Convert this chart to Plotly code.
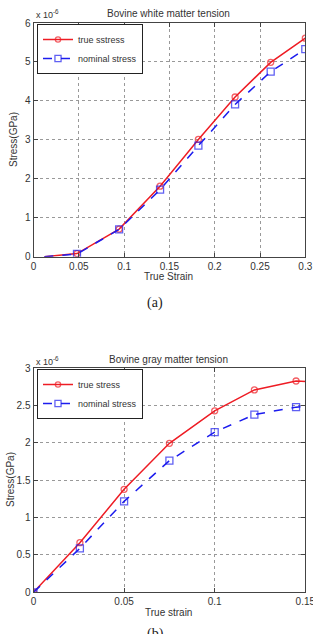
import plotly.graph_objects as go

# ---- data: (a) Bovine white matter tension ----
white_strain = [0.012, 0.048, 0.0945, 0.1397, 0.182, 0.2225, 0.2618, 0.3]
white_true = [0.0, 0.08, 0.71, 1.81, 3.01, 4.10, 4.99, 5.61]
white_nominal = [0.0, 0.07, 0.70, 1.72, 2.85, 3.91, 4.75, 5.33]
white_xticks = [0, 0.05, 0.1, 0.15, 0.2, 0.25, 0.3]
white_xlabels = ["0", "0.05", "0.1", "0.15", "0.2", "0.25", "0.3"]
white_yticks = [0, 1, 2, 3, 4, 5, 6]

# ---- data: (b) Bovine gray matter tension ----
gray_strain = [0.0, 0.0256, 0.05, 0.075, 0.1, 0.1219, 0.1449, 0.17]
gray_true = [0.0, 0.664, 1.379, 1.995, 2.43, 2.71, 2.83, 2.80]
gray_nominal = [0.0, 0.589, 1.218, 1.763, 2.146, 2.38, 2.48, 2.52]
gray_xticks = [0, 0.05, 0.1, 0.15]
gray_xlabels = ["0", "0.05", "0.1", "0.15"]
gray_yticks = [0, 0.5, 1, 1.5, 2, 2.5, 3]
gray_ylabels = ["0", "0.5", "1", "1.5", "2", "2.5", "3"]

RED = "#ee1c24"
BLUE = "#1c1cee"
W, H = 313, 634
FONT = "Liberation Sans"

def py(p):  # pixel y -> paper y
    return 1 - p / H

def px(p):
    return p / W

fig = go.Figure()

white_msize = [0] + [6] * (len(white_strain) - 1)
gray_msize = [6] * (len(gray_strain) - 1) + [0]

fig.add_trace(go.Scatter(x=white_strain, y=white_true, mode="lines+markers", name="true sstress",
                         line=dict(color=RED, width=1.5),
                         marker=dict(symbol="circle-open", size=white_msize, color=RED, line=dict(width=1.3)),
                         xaxis="x", yaxis="y", legend="legend"))
fig.add_trace(go.Scatter(x=white_strain, y=white_nominal, mode="lines+markers", name="nominal stress",
                         line=dict(color=BLUE, width=1.5, dash="dash"),
                         marker=dict(symbol="square-open", size=[0] + [7] * (len(white_strain) - 1), color=BLUE, line=dict(width=1.3)),
                         xaxis="x", yaxis="y", legend="legend"))
fig.add_trace(go.Scatter(x=gray_strain, y=gray_true, mode="lines+markers", name="true stress",
                         line=dict(color=RED, width=1.5),
                         marker=dict(symbol="circle-open", size=gray_msize, color=RED, line=dict(width=1.3)),
                         xaxis="x2", yaxis="y2", legend="legend2"))
fig.add_trace(go.Scatter(x=gray_strain, y=gray_nominal, mode="lines+markers", name="nominal stress",
                         line=dict(color=BLUE, width=1.5, dash="dash"),
                         marker=dict(symbol="square-open", size=[7] * (len(gray_strain) - 1) + [0], color=BLUE, line=dict(width=1.3)),
                         xaxis="x2", yaxis="y2", legend="legend2"))

axis_common = dict(showline=True, linecolor="#444", linewidth=1, mirror="ticks", ticks="inside",
                   ticklen=4, tickcolor="#444", showgrid=True, gridcolor="#999", griddash="dot",
                   gridwidth=1, zeroline=False, automargin=False, ticklabeloverflow="allow",
                   tickfont=dict(family=FONT, size=10, color="#333"))

xdom = [px(33.5), px(305.3)]
leg_common = dict(xanchor="left", yanchor="top", bgcolor="white", bordercolor="#222", borderwidth=1,
                  font=dict(family=FONT, size=9, color="#333"), tracegroupgap=0, itemwidth=30)
fig.update_layout(
    width=W, height=H, margin=dict(l=0, r=0, t=0, b=0, autoexpand=False),
    paper_bgcolor="white", plot_bgcolor="white",
    xaxis=dict(domain=xdom, range=[0, 0.3], tickvals=white_xticks, ticktext=white_xlabels,
               anchor="y", **axis_common),
    yaxis=dict(domain=[py(256.7), py(23)], range=[0, 6], tickvals=white_yticks, anchor="x", **axis_common),
    xaxis2=dict(domain=xdom, range=[0, 0.15], tickvals=gray_xticks, ticktext=gray_xlabels,
                anchor="y2", **axis_common),
    yaxis2=dict(domain=[py(592.3), py(368.3)], range=[0, 3], tickvals=gray_yticks, ticktext=gray_ylabels,
                anchor="x2", **axis_common),
    legend=dict(x=px(37), y=py(24), **leg_common),
    legend2=dict(x=px(37), y=py(369), **leg_common),
    showlegend=True,
)

ann_font = dict(family=FONT, size=10, color="#333")
anns = [
    dict(text="Bovine white matter tension", x=px(168), y=py(14)),
    dict(text="Bovine gray matter tension", x=px(168), y=py(359)),
    dict(text="True Strain", x=px(168), y=py(277)),
    dict(text="True strain", x=px(168), y=py(612)),
    dict(text="Stress(GPa)", x=px(14), y=py(140), textangle=-90),
    dict(text="Stress(GPa)", x=px(10), y=py(480), textangle=-90),
    dict(text="x 10<sup>-6</sup>", x=px(34), y=py(14), xanchor="left", size=9),
    dict(text="x 10<sup>-6</sup>", x=px(34), y=py(361), xanchor="left", size=9),
]
for a in anns:
    f = dict(ann_font)
    if "size" in a:
        f["size"] = a.pop("size")
    fig.add_annotation(xref="paper", yref="paper", showarrow=False, font=f,
                       xanchor=a.pop("xanchor", "center"), yanchor="middle", **a)

fig.add_annotation(text="(a)", xref="paper", yref="paper", x=px(155), y=py(303), showarrow=False,
                   font=dict(family="Liberation Serif", size=14, color="#222"))
fig.add_annotation(text="(b)", xref="paper", yref="paper", x=px(155), y=py(624), yanchor="top",
                   showarrow=False, font=dict(family="Liberation Serif", size=14, color="#222"))

fig.write_html("out.html",
               post_script="document.body.style.margin='0';document.body.style.overflow='hidden';")
